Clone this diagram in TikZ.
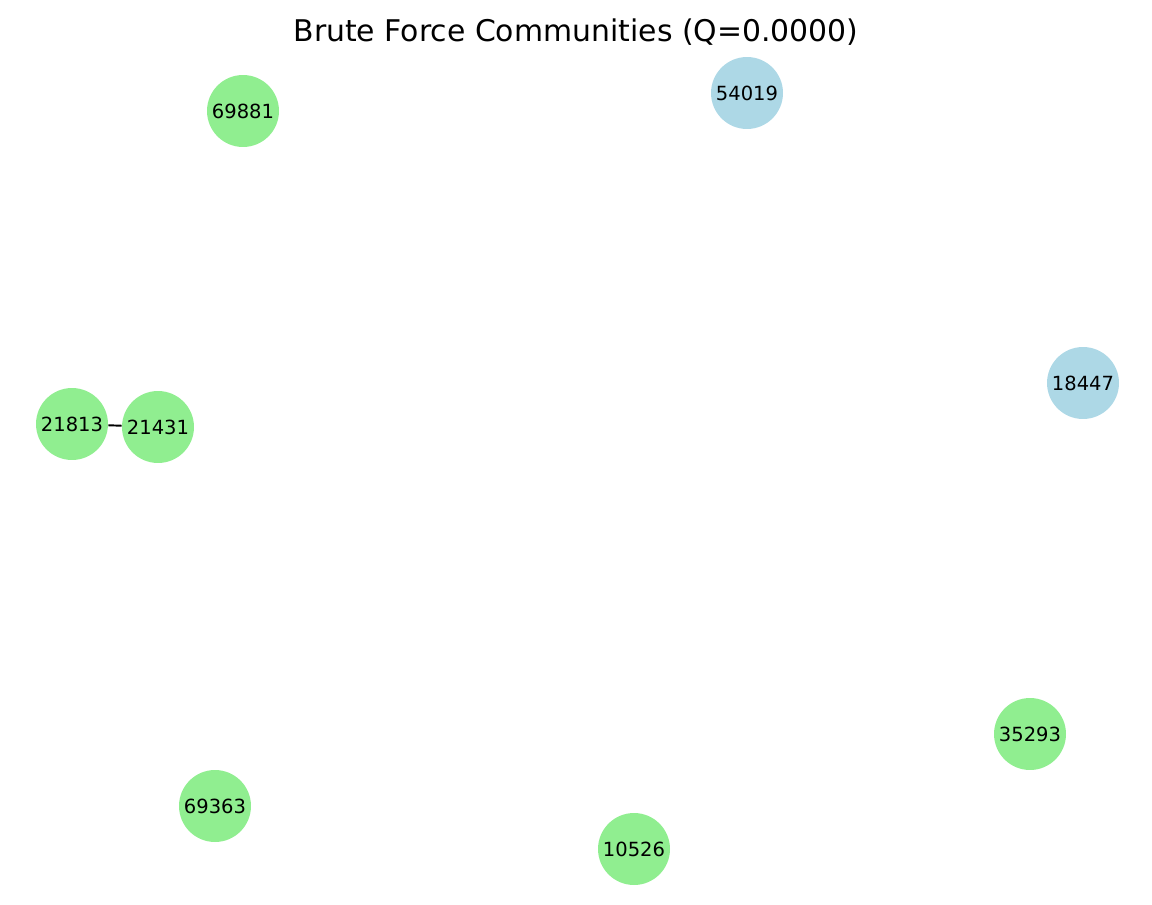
\documentclass[tikz,border=0pt]{standalone}
\usepackage{fontspec}
\setmainfont{DejaVu Sans}
\usepackage{tikz}
\usetikzlibrary{positioning}
\definecolor{greennode}{HTML}{90EE90}
\definecolor{bluenode}{HTML}{ADD8E6}

\begin{document}
\begin{tikzpicture}[
    x=0.02cm, y=-0.02cm,
    vertex/.style={circle, fill=#1, minimum size=1.44cm, inner sep=0pt, font=\fontsize{11.1}{13}\selectfont},
    edge/.style={line width=1.1pt, black}
]
    \useasboundingbox (0,0) rectangle (1152,905);
    \node[font=\fontsize{17}{20}\selectfont] (title) at (576,32) {Brute Force Communities (Q=0.0000)};

    % Community nodes
    \node[vertex=greennode] (n69881) at (243,111) {69881};
    \node[vertex=bluenode]  (n54019) at (747,93)  {54019};
    \node[vertex=bluenode]  (n18447) at (1083,383) {18447};
    \node[vertex=greennode] (n21813) at (72,424)  {21813};
    \node[vertex=greennode] (n21431) at (158,427) {21431};
    \node[vertex=greennode] (n35293) at (1030,734) {35293};
    \node[vertex=greennode] (n69363) at (215,806) {69363};
    \node[vertex=greennode] (n10526) at (634,849) {10526};

    % Edges
    \draw[edge] (n21813) -- (n21431);
\end{tikzpicture}
\end{document}
